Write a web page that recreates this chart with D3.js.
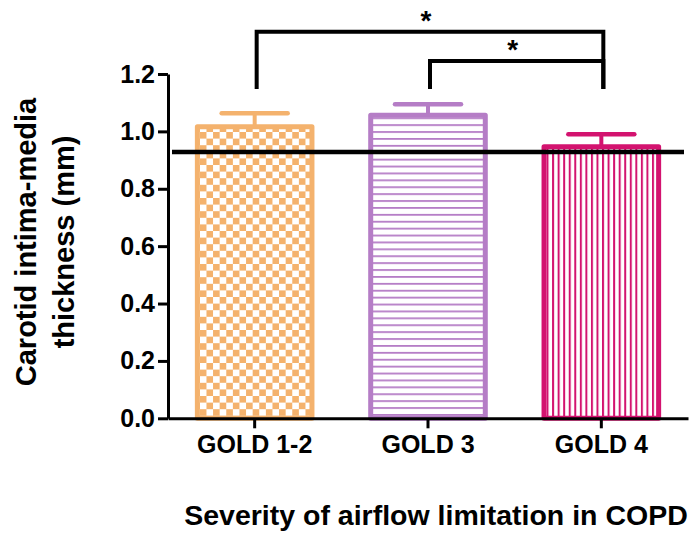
<!DOCTYPE html>
<html>
<head>
<meta charset="utf-8">
<script src="https://cdn.jsdelivr.net/npm/d3@7"></script>
<style>
    body { margin: 0; background: #fff; }
    svg { display: block; }
    text { font-family: "Liberation Sans", Arial, sans-serif; font-weight: bold; fill: #000; }
</style>
</head>
<body>
<div id="chart"></div>
<script>
// data
var groups = ["GOLD 1-2", "GOLD 3", "GOLD 4"];
var means = [1.025, 1.065, 0.955];
var errors = [0.038, 0.030, 0.035];
var barColors = ["#f4b26d", "#b57dc6", "#d3136f"];
var barPatterns = ["checker", "hlines", "vlines"];
var yTicks = [0.0, 0.2, 0.4, 0.6, 0.8, 1.0, 1.2];
var refValue = 0.928;
// significance brackets: group indices and heights in axis units
var brackets = [
    { from: 0, to: 2, level: 1.347, label: "*" },
    { from: 1, to: 2, level: 1.245, label: "*" }
];
var bracketFoot = 1.148;

var width = 699,
    height = 544;

var svg = d3.select("#chart")
    .append("svg")
    .attr("width", width)
    .attr("height", height);

var x = d3.scaleBand()
    .domain(groups)
    .range([168, 688])
    .paddingInner(0.31)
    .paddingOuter(0.155);

var y = d3.scaleLinear()
    .domain([0, 1.2])
    .range([418.3, 74]);

// fill patterns
var defs = svg.append("defs");

function makePattern(kind, color, x0) {
    var p = defs.append("pattern")
        .attr("id", "pat-" + kind)
        .attr("patternUnits", "userSpaceOnUse")
        .attr("patternTransform", "translate(" + x0 + ",0)");

    if (kind === "checker") {
        var s = 6.6;
        p.attr("width", s * 2).attr("height", s * 2);
        p.append("rect").attr("width", s * 2).attr("height", s * 2).attr("fill", "#fff");
        p.append("rect").attr("x", 0).attr("y", 0).attr("width", s).attr("height", s).attr("fill", color);
        p.append("rect").attr("x", s).attr("y", s).attr("width", s).attr("height", s).attr("fill", color);
    } else if (kind === "hlines") {
        p.attr("width", 10).attr("height", 6.9);
        p.append("rect").attr("width", 10).attr("height", 6.9).attr("fill", "#fff");
        p.append("rect").attr("y", 0).attr("width", 10).attr("height", 1.8).attr("fill", color);
    } else {
        p.attr("width", 5.55).attr("height", 10);
        p.append("rect").attr("width", 5.55).attr("height", 10).attr("fill", "#fff");
        p.append("rect").attr("x", 0).attr("width", 2).attr("height", 10).attr("fill", color);
    }
}

var sw = 5;

groups.forEach(function (g, i) {
    makePattern(barPatterns[i], barColors[i], x(g) + sw);
});

// bars
var bar = svg.selectAll(".bar")
    .data(groups)
    .enter()
    .append("g")
    .attr("class", "bar");

bar.append("rect")
    .attr("x", function (d) { return x(d) + sw / 2; })
    .attr("y", function (d, i) { return y(means[i]) + sw / 2; })
    .attr("width", x.bandwidth() - sw)
    .attr("height", function (d, i) { return y(0) - y(means[i]) - sw / 2; })
    .attr("fill", function (d, i) { return "url(#pat-" + barPatterns[i] + ")"; })
    .attr("stroke", function (d, i) { return barColors[i]; })
    .attr("stroke-width", sw)
    .attr("stroke-linejoin", "round");

// error bars
bar.append("line")
    .attr("x1", function (d) { return x(d) + x.bandwidth() / 2; })
    .attr("x2", function (d) { return x(d) + x.bandwidth() / 2; })
    .attr("y1", function (d, i) { return y(means[i]) + 1; })
    .attr("y2", function (d, i) { return y(means[i] + errors[i]); })
    .attr("stroke", function (d, i) { return barColors[i]; })
    .attr("stroke-width", 4);

bar.append("line")
    .attr("x1", function (d) { return x(d) + x.bandwidth() / 2 - 33; })
    .attr("x2", function (d) { return x(d) + x.bandwidth() / 2 + 33; })
    .attr("y1", function (d, i) { return y(means[i] + errors[i]); })
    .attr("y2", function (d, i) { return y(means[i] + errors[i]); })
    .attr("stroke", function (d, i) { return barColors[i]; })
    .attr("stroke-width", 4.5)
    .attr("stroke-linecap", "round");

// axes
var yAxis = svg.append("g")
    .attr("transform", "translate(" + x.range()[0] + ",0)")
    .call(d3.axisLeft(y)
        .tickValues(yTicks)
        .tickFormat(d3.format(".1f"))
        .tickSize(10)
        .tickSizeOuter(0)
        .tickPadding(3));

var xAxis = svg.append("g")
    .attr("transform", "translate(0," + y(0) + ")")
    .call(d3.axisBottom(x)
        .tickSize(10)
        .tickSizeOuter(0)
        .tickPadding(7));

[yAxis, xAxis].forEach(function (a) {
    a.selectAll("path, line").attr("stroke", "#000").attr("stroke-width", 3);
    a.selectAll("text").attr("fill", "#000");
});
yAxis.selectAll("text").style("font-size", "25px");
xAxis.selectAll("text").style("font-size", "25px");

// reference line
svg.append("line")
    .attr("x1", x.range()[0] + 4)
    .attr("x2", x.range()[1] - 4)
    .attr("y1", y(refValue))
    .attr("y2", y(refValue))
    .attr("stroke", "#000")
    .attr("stroke-width", 4.5);

// significance brackets
function cx(i) {
    return x(groups[i]) + x.bandwidth() / 2 + 2;
}

brackets.forEach(function (b) {
    svg.append("path")
        .attr("d", "M" + cx(b.from) + "," + y(bracketFoot) +
            "V" + y(b.level) + "H" + cx(b.to) + "V" + y(bracketFoot))
        .attr("fill", "none")
        .attr("stroke", "#000")
        .attr("stroke-width", 4);

    svg.append("text")
        .attr("x", (cx(b.from) + cx(b.to)) / 2 - 4)
        .attr("y", y(b.level) - 2)
        .attr("text-anchor", "middle")
        .style("font-size", "28px")
        .text(b.label);
});

// axis titles
svg.append("text")
    .attr("transform", "translate(36,242) rotate(-90)")
    .attr("text-anchor", "middle")
    .style("font-size", "29px")
    .text("Carotid intima-media");

svg.append("text")
    .attr("transform", "translate(74,242) rotate(-90)")
    .attr("text-anchor", "middle")
    .style("font-size", "29px")
    .text("thickness (mm)");

svg.append("text")
    .attr("x", 436)
    .attr("y", 525)
    .attr("text-anchor", "middle")
    .style("font-size", "28.5px")
    .text("Severity of airflow limitation in COPD");
</script>
</body>
</html>
